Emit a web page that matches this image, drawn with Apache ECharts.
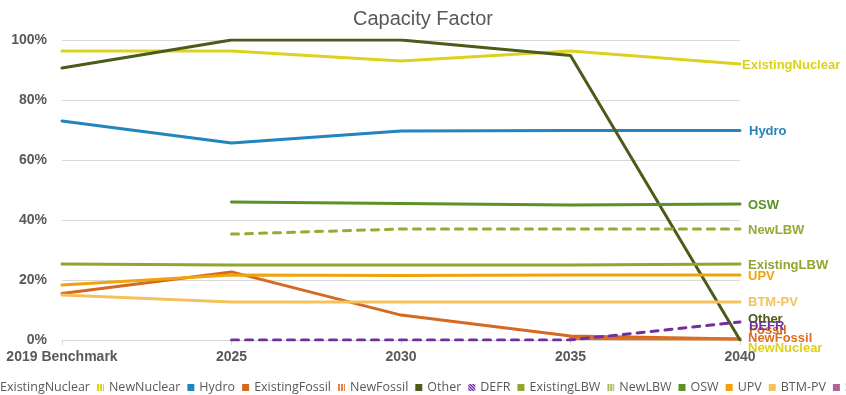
<!DOCTYPE html>
<html>
<head>
<meta charset="utf-8">
<script src="https://cdn.jsdelivr.net/npm/echarts@6/dist/echarts.min.js"></script>
<style>
  html, body { margin: 0; padding: 0; background: #fff; }
  #chart { width: 846px; height: 395px; }
</style>
</head>
<body>
<div id="chart"></div>
<script>
// Categories along the x axis
const years = ['2019 Benchmark', '2025', '2030', '2035', '2040'];
const yTicks = [0, 20, 40, 60, 80, 100];

// Capacity factor by resource type (%)
const existingNuclear = [96.3, 96.3, 93.0, 96.3, 92.0];
const newNuclear      = [null, null, null, null, 0];
const hydro           = [73.0, 65.7, 69.7, 69.8, 69.8];
const existingFossil  = [15.5, 22.7, 8.3, 1.3, 0.3];
const newFossil       = [null, null, null, 0.5, 0.3];
const other           = [90.7, 100, 100, 94.8, 0];
const defr            = [null, 0, 0, 0, 6.0];
const existingLBW     = [25.3, 25.0, 25.0, 25.0, 25.3];
const newLBW          = [null, 35.3, 37.0, 37.0, 37.0];
const osw             = [null, 46.0, 45.5, 45.0, 45.3];
const upv             = [18.3, 21.7, 21.5, 21.7, 21.7];
const btmPv           = [15.0, 12.7, 12.7, 12.7, 12.7];
const storage         = [null, null, null, null, null];

// Striped swatch for the "new build" legend entries
function stripes(color, diagonal) {
  const c = document.createElement('canvas');
  c.width = 3; c.height = 3;
  const g = c.getContext('2d');
  g.fillStyle = '#ffffff';
  g.fillRect(0, 0, 3, 3);
  g.fillStyle = color;
  if (diagonal) {
    for (let i = 0; i < 3; i++) {
      g.fillRect((i * 2) % 3, 2 - i, 1, 1);
      g.fillRect((i * 2 + 1) % 3, 2 - i, 1, 1);
    }
  } else {
    g.fillRect(0, 0, 2, 3);
  }
  return { image: c, repeat: 'repeat' };
}

const textGray = '#595959';
const labelFont = '"Liberation Sans", Arial, sans-serif';

// name, values, color, dashed, end-label text, end-label offset [dx, dy]
const seriesDefs = [
  ['ExistingNuclear', existingNuclear, '#ddd11e', false, 'ExistingNuclear', [2, 1]],
  ['NewNuclear',      newNuclear,      '#ddd11e', false, 'NewNuclear',      [8, 8]],
  ['Hydro',           hydro,           '#2185be', false, 'Hydro',           [9, 1]],
  ['ExistingFossil',  existingFossil,  '#d5691f', false, 'Fossil',          [9, -9]],
  ['NewFossil',       newFossil,       '#dd6f25', false, 'NewFossil',       [8, -1]],
  ['Other',           other,           '#4b5b1a', false, 'Other',           [8, -21]],
  ['DEFR',            defr,            '#7030a0', true,  'DEFR',            [9, 4]],
  ['ExistingLBW',     existingLBW,     '#8fa631', false, 'ExistingLBW',     [8, 1]],
  ['NewLBW',          newLBW,          '#94ab34', true,  'NewLBW',          [8, 1]],
  ['OSW',             osw,             '#5b9125', false, 'OSW',             [8, 1]],
  ['UPV',             upv,             '#f0a30a', false, 'UPV',             [8, 2]],
  ['BTM-PV',          btmPv,           '#f4c15a', false, 'BTM-PV',          [8, 1]],
  ['Storage',         storage,         '#b4609a', false, '',                [8, 0]]
];

const legendIcons = {
  NewNuclear: stripes('#ddd11e', false),
  NewFossil: stripes('#e8834a', false),
  DEFR: stripes('#7030a0', true),
  NewLBW: stripes('#a3b84a', false)
};

const series = seriesDefs.map(([name, data, color, dashed, endText, off]) => ({
  name: name,
  type: 'line',
  data: data,
  symbol: 'none',
  connectNulls: false,
  lineStyle: { color: color, width: 3, type: dashed ? [7, 7] : 'solid', cap: 'round' },
  itemStyle: { color: color },
  emphasis: { disabled: true },
  endLabel: {
    show: endText !== '',
    formatter: endText,
    color: color,
    fontFamily: labelFont,
    fontWeight: 'bold',
    fontSize: 13,
    distance: 0,
    offset: off
  }
}));

const chart = echarts.init(document.getElementById('chart'), null, { renderer: 'canvas' });
chart.setOption({
  animation: false,
  title: {
    text: 'Capacity Factor',
    left: 'center',
    top: 4,
    textStyle: { color: textGray, fontFamily: labelFont, fontSize: 20, fontWeight: 'normal' }
  },
  legend: {
    type: 'plain',
    left: -17,
    top: 376,
    width: 1200,
    itemWidth: 7,
    itemHeight: 7,
    itemGap: 7,
    icon: 'rect',
    textStyle: { color: textGray, fontFamily: '"Open Sans", sans-serif', fontSize: 12.5 },
    data: seriesDefs.map(([name, , color]) => ({
      name: name,
      icon: 'rect',
      itemStyle: { color: legendIcons[name] || color, borderWidth: 0 }
    }))
  },
  grid: { left: 62, right: 106, top: 40, bottom: 55 },
  xAxis: {
    type: 'category',
    data: years,
    boundaryGap: false,
    axisLine: { lineStyle: { color: '#d9d9d9', width: 1 } },
    axisTick: { show: true, length: 5, lineStyle: { color: '#d9d9d9' } },
    axisLabel: { color: textGray, fontFamily: labelFont, fontWeight: 'bold', fontSize: 14, margin: 10 }
  },
  yAxis: {
    type: 'value',
    min: yTicks[0],
    max: yTicks[yTicks.length - 1],
    interval: yTicks[1] - yTicks[0],
    axisLine: { show: false },
    axisTick: { show: false },
    splitLine: { lineStyle: { color: '#d9d9d9', width: 1 } },
    axisLabel: { color: textGray, fontFamily: labelFont, fontWeight: 'bold', fontSize: 14, margin: 15,
                 formatter: v => v + '%' }
  },
  series: series
});
</script>
</body>
</html>
